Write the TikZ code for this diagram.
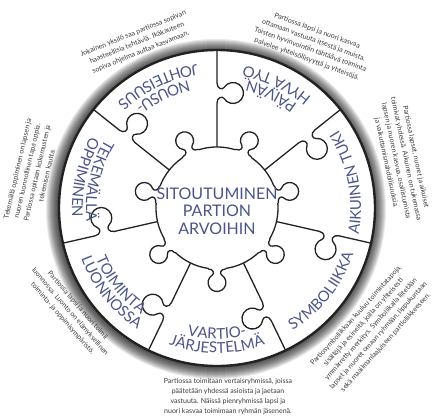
\documentclass[tikz,border=0pt]{standalone}
\usepackage{fontspec}
\setmainfont{Lato}
\usepackage{tikz}
\usetikzlibrary{calc,decorations.text}

\definecolor{segblue}{HTML}{4A5689}
\definecolor{desctext}{HTML}{3A3A3A}
\definecolor{linecol}{HTML}{222222}

\newcommand{\segfont}{\color{segblue}\fontsize{15}{18}\selectfont}
\newcommand{\spokeknob}[1]{-- ({#1-10},0) .. controls ({#1-4},0) and ({#1-3},-5.5) .. ({#1-5.5},-7.06)
  arc[start angle=121.6, end angle=418.4, radius=10.5]
  .. controls ({#1+3},-5.5) and ({#1+4},0) .. ({#1+10},0)}

\begin{document}
\begin{tikzpicture}[x=1pt, y=1pt,
    piece/.style={draw=linecol, line width=1.3pt, line join=round},
    ring/.style={draw=linecol, line width=2.4pt},
    seglabel/.style={decorate, decoration={text along path, text align=center, text={|\segfont|#1}}},
    desc/.style={text=desctext, font=\fontsize{7}{10}\selectfont, align=center, inner sep=0pt}]
  \useasboundingbox (-217,-208) rectangle (218,208);
  \foreach \i in {1,...,12}
    \draw[black, opacity=0.085, line width=\i*2pt] (-1,-1) circle (158);
  \fill[white] (0,0) circle (158);
  \foreach \a in {90,38.57,-12.86,-64.29,-115.71,-167.14,141.43}
    \draw[piece, rotate=\a] (61,0) \spokeknob{115} -- (158,0);
  \draw[piece, fill=white] (0,0) circle (61);
  \foreach \b in {12.86,64.29,115.71,167.14,218.57,270,321.43}{
    \begin{scope}[rotate=\b, shift={(61,0)}, rotate=90, scale=0.85]
      \fill[white] (-10,3) \spokeknob{0} -- (10,3) -- cycle;
      \draw[piece] (-10,0.7) \spokeknob{0} -- (10,0.7);
    \end{scope}
  }
  \draw[ring] (0,0) circle (158);

  \path[seglabel=NOUSU-] (70.71:131) arc[start angle=70.71, end angle=160.71, radius=131];
  \path[seglabel=JOHTEISUUS] (70.71:145) arc[start angle=70.71, end angle=160.71, radius=145];
  \path[seglabel=PÄIVÄN] (19.29:131) arc[start angle=19.29, end angle=109.29, radius=131];
  \path[seglabel=HYVÄ TYÖ] (19.29:145) arc[start angle=19.29, end angle=109.29, radius=145];
  \path[seglabel=AIKUINEN TUKI] (-34:144) arc[start angle=-34, end angle=56, radius=144];
  \path[seglabel=SYMBOLIIKKA] (-83.57:144) arc[start angle=-83.57, end angle=6.43, radius=144];
  \path[seglabel=VARTIO-] (-135:131) arc[start angle=-135, end angle=-45, radius=131];
  \path[seglabel=JÄRJESTELMÄ] (-135:145) arc[start angle=-135, end angle=-45, radius=145];
  \path[seglabel=TOIMINTA] (-186.43:131) arc[start angle=-186.43, end angle=-96.43, radius=131];
  \path[seglabel=LUONNOSSA] (-186.43:145) arc[start angle=-186.43, end angle=-96.43, radius=145];
  \path[seglabel=TEKEMÄLLÄ] (122.14:131) arc[start angle=122.14, end angle=212.14, radius=131];
  \path[seglabel=OPPIMINEN] (122.14:145) arc[start angle=122.14, end angle=212.14, radius=145];

  \node[text=segblue, font=\fontsize{16}{17.5}\selectfont, align=center] (hubtext) at (0,-3)
    {SITOUTUMINEN\\PARTION\\ARVOIHIN};

  \node[desc, rotate=22] (nousudesc) at (-80,165)
    {Jokainen yksilö saa partiossa sopivan\\haasteellisia tehtäviä. Ikäkauteen\\sopiva ohjelma auttaa kasvamaan.};
  \node[desc, rotate=-20] (paivandesc) at (95,163)
    {Partiossa lapsi ja nuori kasvaa\\ottamaan vastuuta itsestä ja muista.\\Toisten hyvinvointiin tähtäävä toiminta\\palvelee yhteisöllisyyttä ja yhteisöjä.};
  \node[desc, rotate=-78] (aikuinendesc) at (184,48)
    {Partiossa lapset, nuoret ja aikuiset\\toimivat yhdessä. Aikuinen on tukemassa\\lapsen ja nuoren kasvua, osallistumista\\ja vaikuttamismahdollisuuksia.};
  \node[desc, rotate=48] (symbolidesc) at (154,-121)
    {Partiosymboliikkaan kuuluu toimintatapoja,\\sisältöjä ja esineitä, joilla on yhteisesti\\ymmärretty merkitys. Symboliikalla liitetään\\lapset ja nuoret omaan ryhmään, lippukuntaan\\sekä maailmanlaajuiseen partioliikkeeseen.};
  \node[desc] (vartiodesc) at (11,-189)
    {Partiossa toimitaan vertaisryhmissä, joissa\\päätetään yhdessä asioista ja jaetaan\\vastuuta. Näissä pienryhmissä lapsi ja\\nuori kasvaa toimimaan ryhmän jäsenenä.};
  \node[desc, rotate=-49] (luontodesc) at (-147,-104)
    {Partiossa lapsi ja nuori toimii\\luonnossa. Luonto on elämyksellinen\\toiminta- ja oppimisympäristö.};
  \node[desc, rotate=77] (tekemalladesc) at (-185,36)
    {Tekemällä oppiminen on lapsen ja\\nuoren luonnollinen tapa oppia.\\Partiossa opitaan kokemusten ja\\tekemisen kautta.};
\end{tikzpicture}
\end{document}
